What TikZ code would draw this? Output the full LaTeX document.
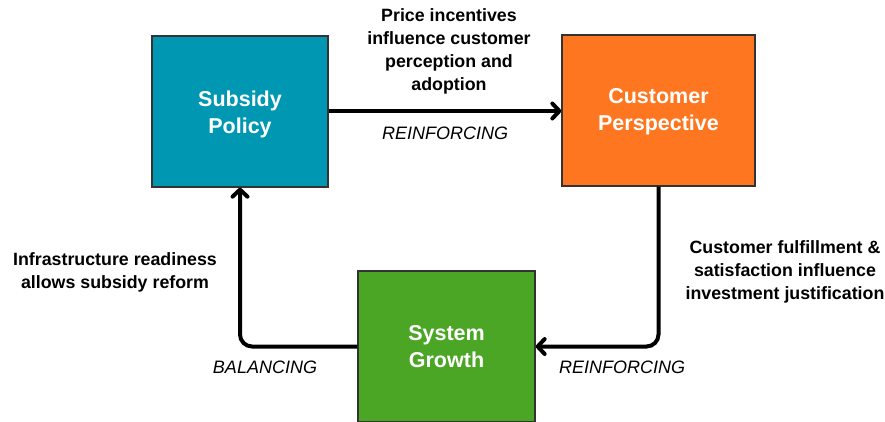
\documentclass[tikz,border=0pt]{standalone}
\usepackage{fontspec}
\setmainfont{Liberation Sans}
\usetikzlibrary{arrows.meta}
\definecolor{policyblue}{HTML}{0097B2}
\definecolor{custorange}{HTML}{FF7620}
\definecolor{growgreen}{HTML}{4BA626}
\definecolor{boxedge}{HTML}{333333}
\begin{document}
\begin{tikzpicture}[x=1pt,y=-1pt,
  blockbox/.style={draw=boxedge, line width=1.3pt, inner sep=0pt, align=center,
    text=white, font=\bfseries\fontsize{21.5}{27}\selectfont},
  boxlabel/.style={align=center, text=white, font=\bfseries\fontsize{21.5}{27}\selectfont},
  link/.style={line width=4pt, rounded corners=12pt,
    -{Straight Barb[length=7pt,width=15pt,line cap=round,line join=round]}},
  note/.style={align=center, font=\bfseries\fontsize{17.8}{23}\selectfont},
  looptag/.style={font=\itshape\fontsize{18}{20}\selectfont}]
\useasboundingbox (0,0) rectangle (885,421);
% the three stocks of the loop
\node[blockbox, fill=policyblue, minimum width=176pt, minimum height=151pt] (sp) at (240,111.5) {};
\node[blockbox, fill=custorange, minimum width=193pt, minimum height=151pt] (cp) at (658.5,110.5) {};
\node[blockbox, fill=growgreen, minimum width=177pt, minimum height=151pt] (sg) at (446.5,346.5) {};
\node[boxlabel] (spl) at (240,114) {Subsidy\\Policy};
\node[boxlabel] (cpl) at (658.5,112) {Customer\\Perspective};
\node[boxlabel] (sgl) at (446.5,346.5) {System\\Growth};
% causal links
\coordinate (rc) at (cp.south |- sg.east);
\coordinate (lc) at (sp.south |- sg.west);
\draw[link] (sp.east |- 0,111) -- (cp.west |- 0,111);
\draw[link] (cp.south) -- (rc) -- (sg.east);
\draw[link] (sg.west) -- (lc) -- (sp.south);
% link descriptions and loop types
\node[note] (t1) at (449,51) {Price incentives\\influence customer\\perception and\\adoption};
\node[looptag] (r1) at (445,133) {REINFORCING};
\node[note] (t2) at (785,271.5) {Customer fulfillment \&\\satisfaction influence\\investment justification};
\node[note] (t3) at (115,272) {Infrastructure readiness\\allows subsidy reform};
\node[looptag] (b1) at (265,367) {BALANCING};
\node[looptag] (r2) at (622,367) {REINFORCING};
\end{tikzpicture}
\end{document}
